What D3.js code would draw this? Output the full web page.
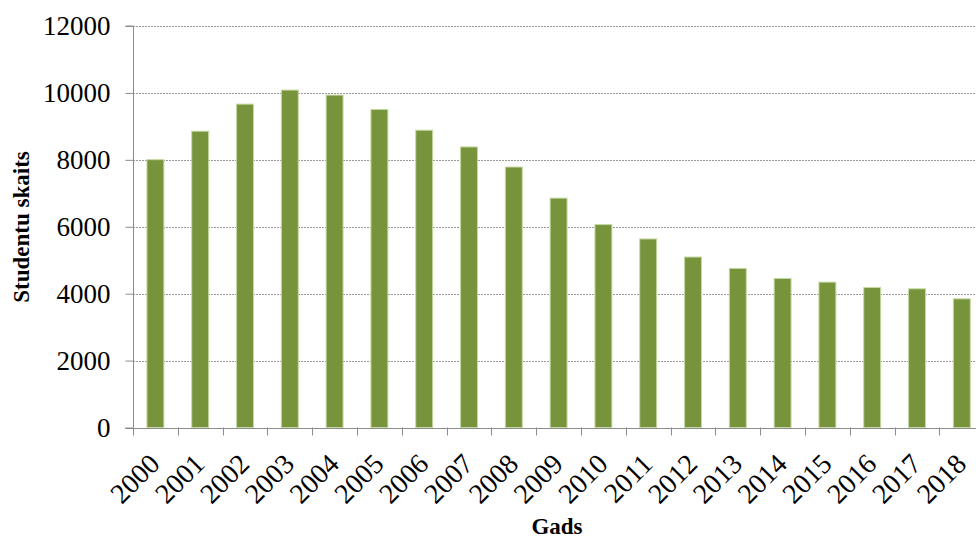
<!DOCTYPE html>
<html><head><meta charset="utf-8">
<script src="https://cdn.jsdelivr.net/npm/d3@7"></script>
<style>
html,body{margin:0;padding:0;background:#fff;}
svg{display:block;}
</style></head>
<body>
<svg id="chart" width="976" height="538"></svg>
<script>
const categories = ["2000","2001","2002","2003","2004","2005","2006","2007","2008","2009","2010","2011","2012","2013","2014","2015","2016","2017","2018"];
const students = [8020,8870,9680,10100,9950,9520,8900,8400,7800,6870,6080,5650,5110,4770,4470,4360,4200,4160,3860];
const yTicks = [0,2000,4000,6000,8000,10000,12000];
const yTitle = "Studentu skaits";
const xTitle = "Gads";

(function () {
const FONT = "'Liberation Serif', 'DejaVu Serif', serif";
const svg = d3.select("#chart");
const pLeft = 133, pRight = 984.2, pTop = 26, pBottom = 427.5;

const x = d3.scaleBand().domain(categories).range([pLeft, pRight]).paddingInner(0.6).paddingOuter(0.3);
const xb = d3.scaleBand().domain(categories).range([pLeft, pRight]).padding(0);
const y = d3.scaleLinear().domain([0, 12000]).range([pBottom, pTop]);

// gridlines
svg.append("g").selectAll("line").data(yTicks.filter(d => d > 0)).join("line")
  .attr("x1", pLeft).attr("x2", 976)
  .attr("y1", d => Math.round(y(d)) + 0.5).attr("y2", d => Math.round(y(d)) + 0.5)
  .attr("stroke", "#9a9a9a").attr("stroke-width", 1).attr("stroke-dasharray", "2,1");

// bars
svg.append("g").selectAll("rect").data(students).join("rect")
  .attr("x", (d, i) => x(categories[i]) + 0.5)
  .attr("y", d => y(d) + 0.5)
  .attr("width", x.bandwidth() - 1)
  .attr("height", d => pBottom - y(d) - 0.5)
  .attr("fill", "#77933C")
  .attr("stroke", "#c6d8a3").attr("stroke-width", 1);

// y axis
const yAxis = d3.axisLeft(y).tickValues(yTicks).tickSize(8).tickPadding(15).tickFormat(d3.format("d"));
const gy = svg.append("g").attr("transform", `translate(${pLeft + 0.5},0)`).call(yAxis)
  .attr("font-family", FONT).attr("font-size", 27);
gy.select(".domain").attr("stroke", "#8c8c8c").attr("d", `M-8,${pTop}H0V${pBottom}`);
gy.selectAll(".tick line").attr("stroke", "#8c8c8c");
gy.selectAll(".tick text").attr("font-family", FONT).attr("font-size", 27).attr("fill", "#000").attr("dy", "0.33em");

// x axis
const gx = svg.append("g");
gx.append("line").attr("x1", pLeft - 8).attr("x2", 976)
  .attr("y1", Math.round(pBottom) + 0.5).attr("y2", Math.round(pBottom) + 0.5)
  .attr("stroke", "#8c8c8c");
const bounds = categories.map(c => xb(c)).concat([pRight]);
gx.selectAll("line.t").data(bounds).join("line").attr("class", "t")
  .attr("x1", d => Math.round(d) + 0.5).attr("x2", d => Math.round(d) + 0.5)
  .attr("y1", pBottom).attr("y2", pBottom + 8)
  .attr("stroke", "#8c8c8c");
gx.selectAll("text").data(categories).join("text")
  .attr("transform", d => `translate(${xb(d) + xb.bandwidth() / 2 + 6},${pBottom + 38}) rotate(-45)`)
  .attr("text-anchor", "end")
  .attr("font-family", FONT).attr("font-size", 28).attr("fill", "#000")
  .text(d => d);

// titles
svg.append("text").attr("transform", `translate(29,227) rotate(-90)`)
  .attr("text-anchor", "middle").attr("font-family", FONT).attr("font-size", 23).attr("font-weight", "bold")
  .text(yTitle);
svg.append("text").attr("x", 557).attr("y", 534)
  .attr("text-anchor", "middle").attr("font-family", FONT).attr("font-size", 23).attr("font-weight", "bold")
  .text(xTitle);
})();
</script>
</body></html>
